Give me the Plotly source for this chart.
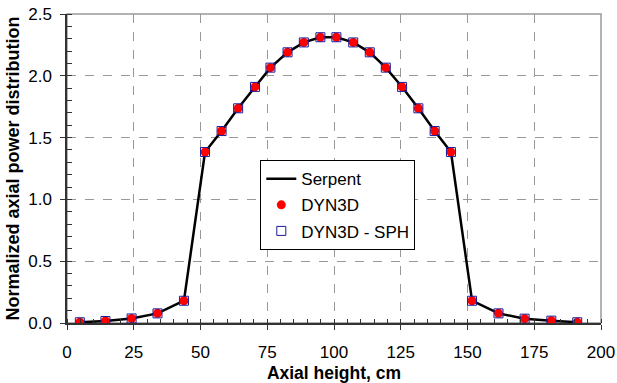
import plotly.graph_objects as go

height_cm = [4.8, 14.4, 24.2, 33.9, 43.8, 51.7, 57.9, 64.1, 70.4, 76.2, 82.6, 88.7, 94.9,
             100.9, 107.2, 113.4, 119.4, 125.5, 131.6, 137.7, 143.8, 151.7, 161.6, 171.4, 181.4, 191.1]
serpent = [0.006, 0.016, 0.037, 0.078, 0.18, 1.383, 1.553, 1.737, 1.91, 2.066, 2.19, 2.27, 2.312,
           2.312, 2.27, 2.19, 2.066, 1.91, 1.737, 1.553, 1.383, 0.18, 0.078, 0.035, 0.019, 0.006]
dyn3d = list(serpent)
dyn3d_sph = list(serpent)

x_ticks = [0, 25, 50, 75, 100, 125, 150, 175, 200]
y_ticks = [0.0, 0.5, 1.0, 1.5, 2.0, 2.5]

fig = go.Figure()
fig.add_trace(go.Scatter(x=height_cm, y=serpent, mode="lines", name="Serpent",
                         line=dict(color="black", width=2.5), legendgroup="a"))
fig.add_trace(go.Scatter(x=height_cm, y=dyn3d, mode="markers", name="DYN3D",
                         marker=dict(symbol="circle", color="#ff0000", size=9,
                                     line=dict(width=0)), legendgroup="b"))
fig.add_trace(go.Scatter(x=height_cm, y=dyn3d_sph, mode="markers", name="DYN3D - SPH",
                         marker=dict(symbol="square-open", color="#1a1a99", size=9,
                                     line=dict(width=1)), legendgroup="c"))

font = "Liberation Sans, Arial, sans-serif"
fig.update_layout(
    width=617, height=383,
    margin=dict(l=67, r=16, t=14, b=60),
    plot_bgcolor="white", paper_bgcolor="white",
    font=dict(family=font, size=17, color="black"),
    showlegend=True,
    legend=dict(x=0.362, y=0.527, xanchor="left", yanchor="top",
                bgcolor="white", bordercolor="black", borderwidth=1,
                font=dict(size=17), tracegroupgap=1, itemwidth=30),
    shapes=[dict(type="rect", xref="paper", yref="paper", x0=0, y0=0, x1=1, y1=1,
                 line=dict(color="#999999", width=1.5), layer="below")],
)
fig.update_xaxes(
    range=[0, 200], tickvals=x_ticks, ticktext=[str(v) for v in x_ticks],
    automargin=False,
    showgrid=True, gridcolor="#999999", griddash="dash", gridwidth=1,
    showline=True, linecolor="#333333", linewidth=1.5,
    ticks="outside", ticklen=5, tickcolor="#333333", tickwidth=1,
    ticklabelstandoff=8,
    minor=dict(dtick=5, ticks="inside", ticklen=4, tickcolor="#333333", showgrid=False),
    zeroline=False,
    title=dict(text="<b>Axial height, cm</b>", font=dict(size=17.5), standoff=6),
    tickfont=dict(size=17),
)
fig.update_yaxes(
    range=[0, 2.5], tickvals=y_ticks, ticktext=[f"{v:.1f}" for v in y_ticks],
    automargin=False,
    showgrid=True, gridcolor="#999999", griddash="dash", gridwidth=1,
    showline=True, linecolor="#333333", linewidth=1.5,
    ticks="outside", ticklen=5, tickcolor="#333333", tickwidth=1,
    ticklabelstandoff=5,
    minor=dict(dtick=0.1, ticks="inside", ticklen=5, tickcolor="#333333", showgrid=False),
    zeroline=False,
    title=dict(text="<b>Normalized axial power distribution</b>", font=dict(size=18), standoff=4),
    tickfont=dict(size=17),
)
fig.write_html("out.html")
